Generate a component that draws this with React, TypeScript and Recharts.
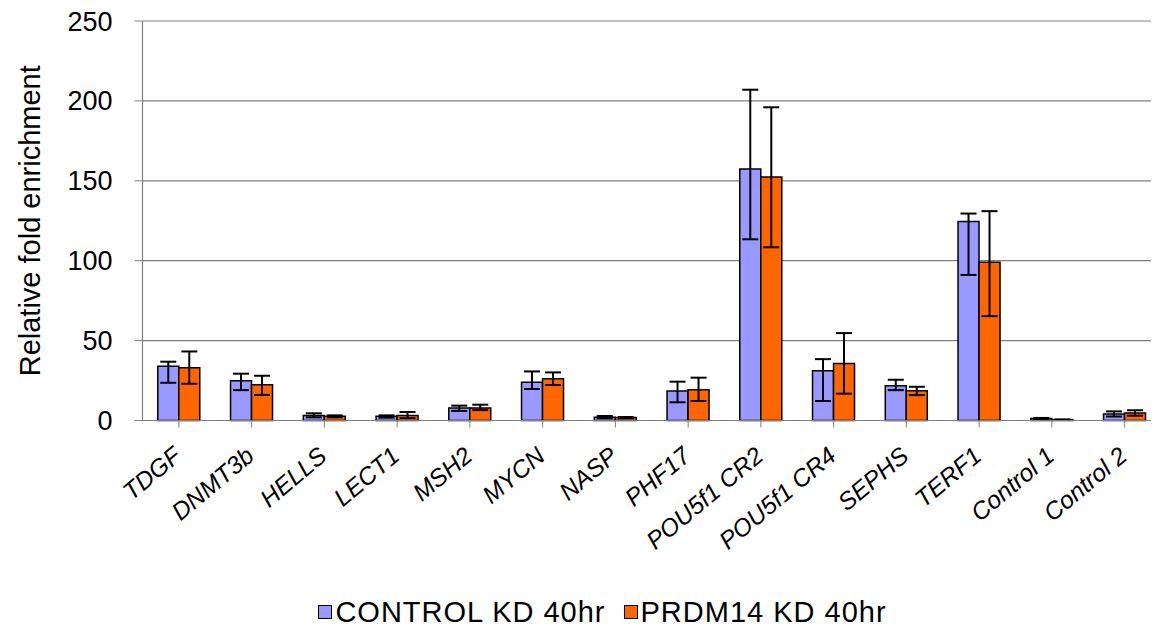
import React from "react";
import {
  Bar,
  BarChart,
  CartesianGrid,
  ErrorBar,
  Legend,
  XAxis,
  YAxis,
} from "recharts";

const FONT = '"Liberation Sans", Arial, sans-serif';

const genes = [
  "TDGF",
  "DNMT3b",
  "HELLS",
  "LECT1",
  "MSH2",
  "MYCN",
  "NASP",
  "PHF17",
  "POU5f1 CR2",
  "POU5f1 CR4",
  "SEPHS",
  "TERF1",
  "Control 1",
  "Control 2",
];

const controlKd = [33.9, 24.9, 3.2, 2.6, 7.8, 24, 2, 18.4, 157.4, 31.1, 21.7, 124.5, 1.3, 4];
// [below, above] deltas
const controlErr: [number, number][] = [
  [10.3, 2.9], [5.9, 4.4], [1.2, 1.3], [0.8, 0.6], [1.8, 1.5], [4.3, 6.7], [0.6, 0.8],
  [7, 5.9], [44, 49.6], [18.9, 7.3], [2.7, 3.8], [33.4, 5], [0.3, 0.3], [1.5, 1.7],
];

const prdm14Kd = [33, 22.4, 2.6, 3.2, 7.8, 26.1, 1.8, 19.3, 152.4, 35.7, 18.6, 99, 0.5, 4.7];
const prdm14Err: [number, number][] = [
  [10, 10.2], [6.4, 5.6], [0.6, 0.6], [1.7, 2.1], [1.3, 2.1], [3.9, 4], [0.4, 0.4],
  [7.1, 7.5], [44, 43.6], [18.9, 19], [2.7, 2.5], [33.7, 32], [0.2, 0.2], [1.7, 1.7],
];

const yTicks = [0, 50, 100, 150, 200, 250];

const data = genes.map((name, i) => ({
  name,
  control: controlKd[i],
  controlErr: controlErr[i],
  prdm14: prdm14Kd[i],
  prdm14Err: prdm14Err[i],
}));

const GeneTick = (props: any) => {
  const { x, y, payload } = props;
  const ax = x + 4;
  const ay = y + 29;
  return (
    <text
      x={ax}
      y={ay}
      transform={`rotate(-40 ${ax} ${ay})`}
      textAnchor="end"
      fontFamily={FONT}
      fontStyle="italic"
      fontSize={24.5}
      fill="#000"
    >
      {payload.value}
    </text>
  );
};

const AxisTitle = (props: any) => {
  const vb = props.viewBox || { y: 13, height: 400 };
  const cy = vb.y + vb.height / 2;
  return (
    <text
      x={22}
      y={cy}
      transform={`rotate(-90 22 ${cy})`}
      textAnchor="middle"
      dominantBaseline="central"
      fontFamily={FONT}
      fontSize={29}
      fill="#000"
    >
      Relative fold enrichment
    </text>
  );
};

const LegendRow = ({ payload }: any) => (
  <div
    style={{
      display: "flex",
      justifyContent: "center",
      alignItems: "center",
      paddingLeft: 36,
      fontFamily: FONT,
      fontSize: 29,
      letterSpacing: 1,
      color: "#000",
      height: 40,
    }}
  >
    {(payload || []).map((p: any) => (
      <div key={p.value} style={{ display: "flex", alignItems: "center", margin: "0 9px" }}>
        <span
          style={{
            width: 12,
            height: 12,
            background: p.color,
            border: "1.5px solid #000",
            marginRight: 3,
          }}
        />
        <span>{p.value}</span>
      </div>
    ))}
  </div>
);

export default function App() {
  return (
    <div style={{ width: 1151, height: 624, overflow: "hidden", position: "relative" }}>
      <BarChart
        width={1170}
        height={624}
        data={data}
        margin={{ top: 13, right: 17, left: 0, bottom: 0 }}
        barCategoryGap="21%"
        barGap={0}
      >
        <CartesianGrid vertical={false} stroke="#808080" strokeWidth={1.2} />
        <XAxis
          dataKey="name"
          interval={0}
          height={171.5}
          tickSize={7}
          tick={<GeneTick />}
          axisLine={{ stroke: "#808080", strokeWidth: 1.2 }}
          tickLine={{ stroke: "#808080" }}
        />
        <YAxis
          width={134.5}
          domain={[0, 250]}
          ticks={yTicks}
          interval={0}
          tickSize={8}
          tickMargin={22}
          axisLine={{ stroke: "#808080", strokeWidth: 1.2 }}
          tickLine={{ stroke: "#808080" }}
          tick={{ fontFamily: FONT, fontSize: 27, fill: "#000" }}
          label={<AxisTitle />}
        />
        <Legend
          verticalAlign="bottom"
          wrapperStyle={{ height: 40 }}
          content={<LegendRow />}
        />
        <Bar
          dataKey="control"
          name="CONTROL KD 40hr"
          fill="#9999FF"
          stroke="#000"
          strokeWidth={1.5}
          isAnimationActive={false}
        >
          <ErrorBar dataKey="controlErr" direction="y" width={8} stroke="#000" strokeWidth={2} />
        </Bar>
        <Bar
          dataKey="prdm14"
          name="PRDM14 KD 40hr"
          fill="#FF6600"
          stroke="#000"
          strokeWidth={1.5}
          isAnimationActive={false}
        >
          <ErrorBar dataKey="prdm14Err" direction="y" width={8} stroke="#000" strokeWidth={2} />
        </Bar>
      </BarChart>
    </div>
  );
}
